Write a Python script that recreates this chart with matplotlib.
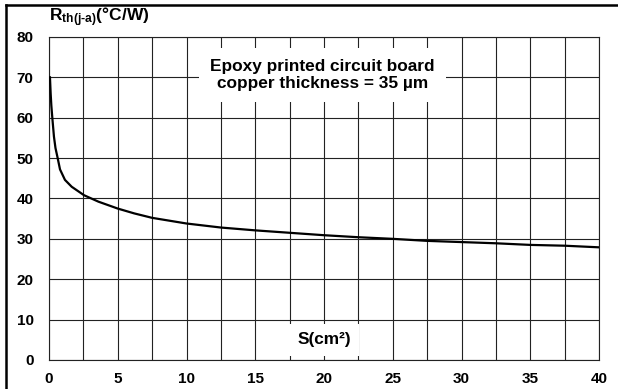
import numpy as np
import matplotlib.pyplot as plt
from matplotlib.lines import Line2D

plt.rcParams['font.family'] = ['Liberation Sans', 'DejaVu Sans']
plt.rcParams['mathtext.fontset'] = 'custom'
plt.rcParams['mathtext.rm'] = 'Liberation Sans:bold'
plt.rcParams['mathtext.bf'] = 'Liberation Sans:bold'

# copper area (cm2) vs thermal resistance junction-ambient (degC/W)
area = [0.07, 0.12, 0.17, 0.24, 0.36, 0.47, 0.63, 0.8, 1.16, 1.65, 2.55, 3.6,
        5.0, 6.2, 7.5, 10, 12.5, 15, 17.5, 20, 22.5, 25, 27.5, 30, 32.5,
        35, 37.5, 40]
rth = [70, 66, 63, 60, 55.3, 52.5, 50, 47.2, 44.6, 42.9, 40.8, 39.2,
       37.5, 36.3, 35.2, 33.8, 32.8, 32.1, 31.5, 30.9, 30.4, 30.0, 29.5,
       29.2, 28.9, 28.5, 28.3, 27.9]

x_ticks = [0, 5, 10, 15, 20, 25, 30, 35, 40]
y_ticks = [0, 10, 20, 30, 40, 50, 60, 70, 80]

fig = plt.figure(figsize=(6.18, 3.89), dpi=100)
ax = fig.add_axes([0.0793, 0.0746, 0.89, 0.8304])

ax.plot(area, rth, color='black', lw=1.6, zorder=3, solid_joinstyle='round')

ax.set_xlim(0, 40)
ax.set_ylim(0, 80)
ax.set_xticks(x_ticks)
ax.set_xticks(np.arange(2.5, 40, 5), minor=True)
ax.set_yticks(y_ticks)
ax.grid(True, which='both', color='#222222', lw=0.8)
ax.tick_params(which='both', length=0)
ax.tick_params(axis='x', pad=9)
ax.tick_params(axis='y', pad=11)
for lab in ax.get_xticklabels() + ax.get_yticklabels():
    lab.set_fontweight('bold')
    lab.set_fontsize(11)
for s in ax.spines.values():
    s.set_linewidth(0.8)
    s.set_color('#222222')

ax.text(19.9, 70.6, 'Epoxy printed circuit board\ncopper thickness = 35 µm',
        ha='center', va='center', fontsize=12.4, fontweight='bold',
        linespacing=1.15, zorder=4,
        bbox=dict(facecolor='white', edgecolor='none', pad=8))
ax.text(20, 4.95, 'S(cm²)', ha='center', va='center', fontsize=12.4,
        fontweight='bold', zorder=4,
        bbox=dict(facecolor='white', edgecolor='none', pad=6))

fig.text(0.079, 0.955, r'$\mathbf{R_{th(j\text{-}a)}}$(°C/W)', ha='left', va='center',
         fontsize=12.5, fontweight='bold')

# page frame lines (left and top)
fig.add_artist(Line2D([0.0105, 0.0105], [0, 0.987], transform=fig.transFigure,
                      color='black', lw=1.8))
fig.add_artist(Line2D([0.0105, 1.0], [0.987, 0.987], transform=fig.transFigure,
                      color='black', lw=1.8))

fig.savefig('out.png', dpi=100)
